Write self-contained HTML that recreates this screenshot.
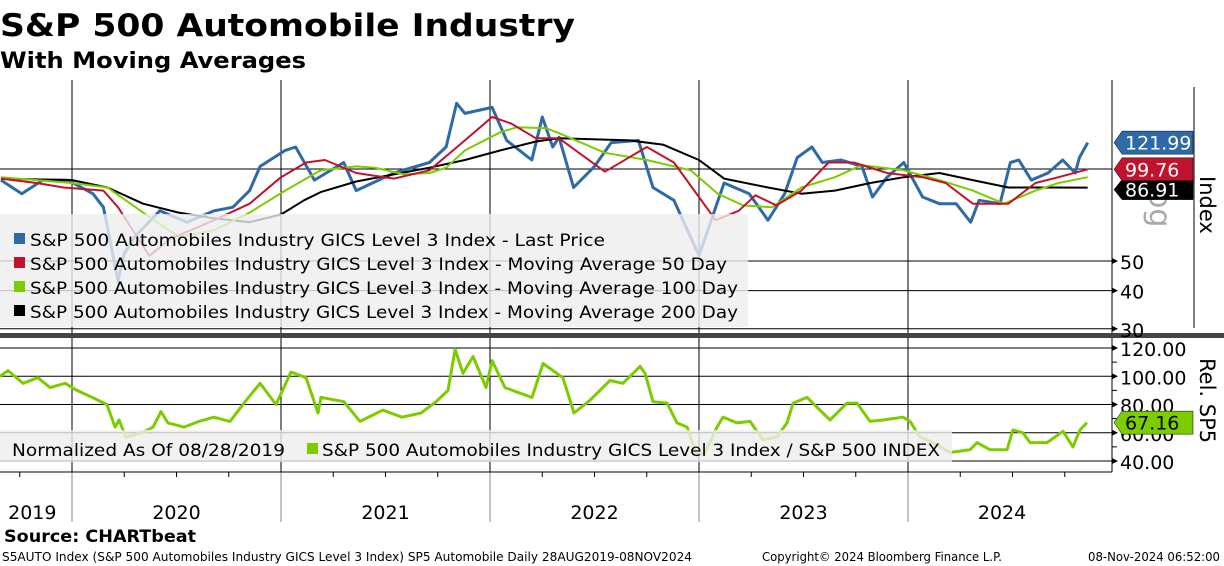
<!DOCTYPE html>
<html><head><meta charset="utf-8"><style>
html,body{margin:0;padding:0;background:#fff;}
svg{display:block;font-family:"DejaVu Sans","Liberation Sans",sans-serif;}
</style></head><body>
<svg id="c" width="1224" height="566" viewBox="0 0 1224 566" xmlns="http://www.w3.org/2000/svg">
<defs>
<clipPath id="clipTop"><rect x="0" y="80" width="1112" height="252"/></clipPath>
<clipPath id="clipBot"><rect x="0" y="340" width="1112" height="132"/></clipPath>
</defs>
<text x="0" y="36" font-size="31" font-weight="bold" textLength="575" lengthAdjust="spacingAndGlyphs">S&amp;P 500 Automobile Industry</text>
<text x="0" y="68" font-size="22" font-weight="bold" textLength="306" lengthAdjust="spacingAndGlyphs">With Moving Averages</text>
<g id="grid"></g>
<g id="series"></g>
<g id="overlay"></g>
</svg>
<script>
// ---- data ----
const priceDates=[2019.66,2019.76,2019.86,2019.98,2020.10,2020.15,2020.22,2020.25,2020.30,2020.42,2020.55,2020.68,2020.77,2020.85,2020.90,2021.02,2021.07,2021.16,2021.30,2021.36,2021.54,2021.71,2021.79,2021.84,2021.88,2022.01,2022.08,2022.20,2022.25,2022.30,2022.33,2022.40,2022.50,2022.58,2022.71,2022.78,2022.88,2023.00,2023.08,2023.12,2023.24,2023.33,2023.41,2023.47,2023.54,2023.59,2023.68,2023.78,2023.83,2023.90,2023.98,2024.07,2024.15,2024.23,2024.30,2024.34,2024.44,2024.49,2024.53,2024.59,2024.67,2024.74,2024.80,2024.82,2024.86];
const priceValues=[92,83,92,92,83,75,43,53,60,73,67,73,75,85,102,115,118,92,105,85,97,105,118,164,152,159,124,107,148,118,127,87,102,122,124,87,79,52,75,90,83,68,83,109,118,105,107,102,81,94,105,81,77,77,67,79,77,105,107,92,97,107,97,109,121.99];
const ma50Dates=[2019.66,2019.83,2019.96,2020.15,2020.22,2020.37,2020.47,2020.68,2020.85,2021.00,2021.12,2021.21,2021.36,2021.54,2021.71,2021.88,2022.01,2022.10,2022.22,2022.33,2022.55,2022.75,2022.88,2023.08,2023.19,2023.27,2023.37,2023.49,2023.62,2023.74,2023.90,2024.07,2024.18,2024.31,2024.48,2024.61,2024.72,2024.86];
const ma50Values=[93,90,87,85,75,52,59,68,77,94,105,107,97,93,99,124,148,141,126,126,98,118,105,68,73,82,76,85,105,105,97,94,90,77,77,90,94,99.76];
const ma100Dates=[2019.66,2020.00,2020.17,2020.34,2020.51,2020.68,2020.85,2021.02,2021.19,2021.36,2021.45,2021.59,2021.71,2021.79,2021.88,2022.05,2022.13,2022.27,2022.33,2022.55,2022.75,2022.96,2023.09,2023.21,2023.35,2023.49,2023.65,2023.78,2023.98,2024.15,2024.31,2024.46,2024.61,2024.72,2024.86];
const ma100Values=[94,90,87,72,60,63,72,85,99,102,101,96,97,101,115,132,137,136,131,113,107,99,83,76,75,87,94,103,99,92,85,77,85,90,94];
const ma200Dates=[2019.66,2020.00,2020.17,2020.34,2020.51,2020.68,2020.85,2021.00,2021.11,2021.19,2021.36,2021.54,2021.71,2021.88,2022.05,2022.22,2022.33,2022.67,2022.83,2023.00,2023.12,2023.33,2023.49,2023.65,2023.82,2023.98,2024.15,2024.31,2024.48,2024.64,2024.86];
const ma200Values=[93,92,87,77,72,69,67,71,79,84,91,96,101,107,115,123,126,124,120,107,93,87,83,85,90,94,97,92,87,87,86.91];
const relDates=[2019.656,2019.694,2019.766,2019.837,2019.895,2019.967,2020.024,2020.096,2020.167,2020.206,2020.225,2020.258,2020.335,2020.388,2020.426,2020.459,2020.536,2020.608,2020.679,2020.756,2020.828,2020.900,2020.976,2021.048,2021.120,2021.177,2021.191,2021.301,2021.378,2021.488,2021.579,2021.670,2021.742,2021.799,2021.833,2021.871,2021.919,2021.981,2022.010,2022.072,2022.144,2022.201,2022.254,2022.349,2022.402,2022.478,2022.574,2022.636,2022.718,2022.742,2022.780,2022.847,2022.895,2022.943,2022.990,2023.029,2023.086,2023.115,2023.182,2023.244,2023.306,2023.373,2023.421,2023.450,2023.517,2023.593,2023.627,2023.708,2023.756,2023.818,2023.880,2023.976,2024.010,2024.057,2024.120,2024.201,2024.297,2024.330,2024.392,2024.474,2024.502,2024.550,2024.584,2024.665,2024.742,2024.789,2024.823,2024.856];
const relValues=[100,104,95,99,92,95,90,85,80,64,69,57,60,64,75,67,64,68,71,68,82,95,80,103,99,74,85,82,68,76,71,74,82,90,119,102,114,92,111,92,88,85,109,99,74,83,97,95,107,102,82,81,67,64,44,46,64,71,67,68,55,57,67,81,85,74,69,81,81,68,69,71,68,57,53,46,48,53,48,48,62,60,53,53,61,50,62,67.16];
const yearTicks=[2020,2021,2022,2023,2024];
const yearLabels=["2019","2020","2021","2022","2023","2024"];
const yearLabelPos=[2019.81,2020.5,2021.5,2022.5,2023.5,2024.45];
const topTicks=[50,40,30];
const topGrid=[100,50,40,30];
const botTicks=[120,100,80,60,40];

// ---- scales ----
const xOf=yr=>72+(yr-2020)*209;
const yTop=v=>169-92*Math.log2(v/100);
const yBot=v=>461-(v-40)*1.4125;
const NS="http://www.w3.org/2000/svg";
function mk(tag,attrs,parent){const e=document.createElementNS(NS,tag);for(const k in attrs)e.setAttribute(k,attrs[k]);parent.appendChild(e);return e;}
const grid=document.getElementById('grid'),series=document.getElementById('series'),ov=document.getElementById('overlay');

// gridlines
topGrid.forEach(v=>{const l=mk('line',{x1:0,x2:1112,y1:yTop(v),y2:yTop(v),stroke:'#000','stroke-width':1},grid);

});
botTicks.forEach(v=>{const l=mk('line',{x1:0,x2:1112,y1:yBot(v),y2:yBot(v),stroke:'#000','stroke-width':1},grid);

});
yearTicks.forEach(y=>{const x=xOf(y);
const a=mk('line',{x1:x,x2:x,y1:80,y2:472,stroke:'#000','stroke-width':1},grid);


const b=mk('line',{x1:x,x2:x,y1:472,y2:522,stroke:'#888','stroke-width':1},grid);

});

// series
function path(dates,vals,ys,color,w,clip,name){
 let d='';dates.forEach((t,i)=>{d+=(i?'L':'M')+xOf(t).toFixed(1)+','+ys(vals[i]).toFixed(1);});
 const p=mk('path',{d:d,fill:'none',stroke:color,'stroke-width':w,'stroke-linejoin':'round','clip-path':'url(#'+clip+')'},series);
 
 
}
path(priceDates,priceValues,yTop,'#2e6aa8',3,'clipTop','last-price-line');
path(ma200Dates,ma200Values,yTop,'#000000',2,'clipTop','ma-200-line');
path(ma100Dates,ma100Values,yTop,'#7ccc00',2,'clipTop','ma-100-line');
path(ma50Dates,ma50Values,yTop,'#c0142e',2,'clipTop','ma-50-line');
path(relDates,relValues,yBot,'#7ccc00',3,'clipBot','relative-line');

// axes
function line(x1,y1,x2,y2,c,w,name){const l=mk('line',{x1,y1,x2,y2,stroke:c,'stroke-width':w},ov);

return l;}
line(1112,80,1112,472,'#000',1,'right-axis-line');
line(1194,87,1194,328,'#000',1,'top-right-border');
line(0,472,1112,472,'#000',1,'x-axis-line');
const sep=mk('rect',{x:0,y:333,width:1224,height:5,fill:'#444'},ov);


for(let q=2019.75;q<2025;q+=0.25){if(Math.abs(q-Math.round(q))<0.01)continue;const x=xOf(q);const t=line(x,472,x,477,'#000',1,'x-minor-tick');}

function txt(x,y,s,size,name,extra){const t=mk('text',Object.assign({x:x,y:y,'font-size':size},extra||{}),ov);t.textContent=s;

return t;}
yearLabels.forEach((s,i)=>{txt(xOf(yearLabelPos[i]),519,s,19,'year-label-'+s,{'text-anchor':'middle'});});

// legends
const lg=mk('rect',{x:0,y:214,width:748,height:113,fill:'#eeeeee','fill-opacity':0.8},ov);


const legColors=['#2e6aa8','#c0142e','#7ccc00','#000'];
const legText=['S&P 500 Automobiles Industry GICS Level 3 Index - Last Price','S&P 500 Automobiles Industry GICS Level 3 Index - Moving Average 50 Day','S&P 500 Automobiles Industry GICS Level 3 Index - Moving Average 100 Day','S&P 500 Automobiles Industry GICS Level 3 Index - Moving Average 200 Day'];
const legLen=[575,697,708,708];
legText.forEach((s,i)=>{const y=246+i*24;
const r=mk('rect',{x:14,y:y-13,width:11,height:11,fill:legColors[i]},ov);


txt(30,y,s,17,'legend-entry-'+i,{textLength:legLen[i],lengthAdjust:'spacingAndGlyphs'});});
const lg2=mk('rect',{x:0,y:430,width:952,height:32,fill:'#eeeeee','fill-opacity':0.8},ov);


txt(12,456,'Normalized As Of 08/28/2019',17,'normalized-note',{textLength:273,lengthAdjust:'spacingAndGlyphs'});
const r2=mk('rect',{x:307,y:443,width:11,height:11,fill:'#7ccc00'},ov);


txt(322,456,'S&P 500 Automobiles Industry GICS Level 3 Index / S&P 500 INDEX',17,'relative-legend-entry',{textLength:618,lengthAdjust:'spacingAndGlyphs'});

// right axis ticks & labels
function arrow(y){const p=mk('polygon',{points:`1112,${y-3} 1118,${y} 1112,${y+3}`,fill:'#000'},ov);

}
topTicks.forEach(v=>{const y=yTop(v);arrow(y);txt(1120,y+8,String(v),19,'top-tick-'+v);});
botTicks.forEach(v=>{const y=yBot(v);arrow(y);txt(1120,y+8,v.toFixed(2),19,'bottom-tick-'+v);});
[110,90,70,50].forEach(v=>{line(1112,yBot(v),1117,yBot(v),'#000',1,'bottom-minor-tick');});

// rotated labels
txt(0,0,'og',30,'log-scale-label',{fill:'#aaa',transform:'translate(1150,190) rotate(90)'});
txt(0,0,'Index',21,'top-axis-title',{transform:'translate(1200,176) rotate(90)'});
txt(0,0,'Rel. SP5',21,'bottom-axis-title',{transform:'translate(1200,358) rotate(90)'});

// flags
function flag(cy,h,color,label,tc,name){const t=cy-h/2,b=cy+h/2;
const p=mk('polygon',{points:`1114,${cy} 1122,${t} 1193,${t} 1193,${b} 1122,${b}`,fill:color,stroke:'#000','stroke-width':0.5},ov);


txt(1125,cy+7,label,19,name+'-text',{fill:tc});}
flag(yTop(ma200Values[ma200Values.length-1])+2,20,'#000',ma200Values[ma200Values.length-1].toFixed(2),'#fff','ma200-value-flag');
flag(yTop(ma50Values[ma50Values.length-1]),23,'#c0142e',ma50Values[ma50Values.length-1].toFixed(2),'#fff','ma50-value-flag');
flag(yTop(priceValues[priceValues.length-1]),23,'#2e6aa8',priceValues[priceValues.length-1].toFixed(2),'#fff','price-value-flag');
flag(yBot(relValues[relValues.length-1]),23,'#7ccc00',relValues[relValues.length-1].toFixed(2),'#000','relative-value-flag');

// footer
txt(4,542,'Source:  CHARTbeat',17,'source-note',{'font-weight':'bold',textLength:192,lengthAdjust:'spacingAndGlyphs'});
txt(2,561,'S5AUTO Index (S&P 500 Automobiles Industry GICS Level 3 Index) SP5 Automobile  Daily 28AUG2019-08NOV2024',12,'footer-description',{textLength:690,lengthAdjust:'spacingAndGlyphs'});
txt(762,561,'Copyright© 2024 Bloomberg Finance L.P.',12,'footer-copyright',{textLength:240,lengthAdjust:'spacingAndGlyphs'});
txt(1088,561,'08-Nov-2024 06:52:00',12,'footer-timestamp',{textLength:132,lengthAdjust:'spacingAndGlyphs'});
</script>
</body></html>
